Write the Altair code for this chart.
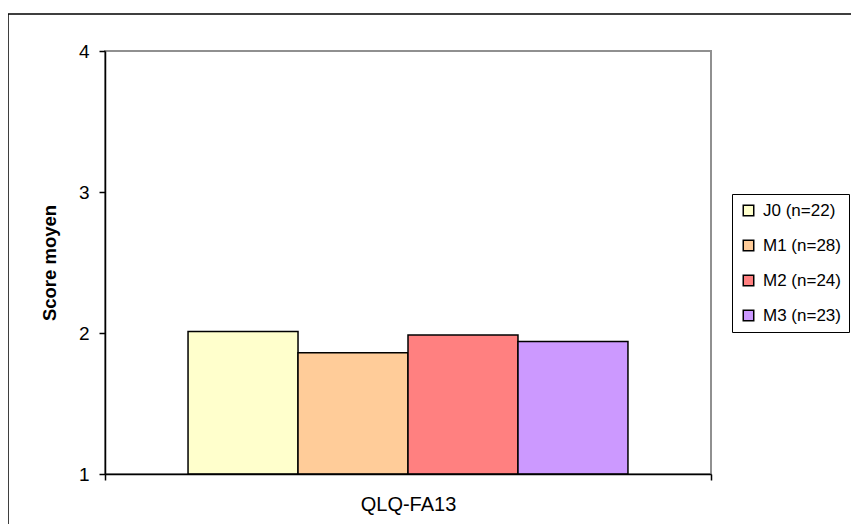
import altair as alt
import pandas as pd

groups = ["J0 (n=22)", "M1 (n=28)", "M2 (n=24)", "M3 (n=23)"]
scores = [2.01, 1.86, 1.985, 1.94]
category = ["QLQ-FA13"] * 4
colors = ["#FFFFCC", "#FFCC99", "#FF8080", "#CC99FF"]
y_ticks = [1, 2, 3, 4]

df = pd.DataFrame({"cat": category, "group": groups, "score": scores})

W, H = 606, 423
FONT = "Liberation Sans"

frame = alt.Chart(pd.DataFrame({"a": [0]})).mark_rect(
    filled=False, fillOpacity=0, stroke="black", strokeWidth=1.5, clip=False
).encode(
    x=alt.value(-97), x2=alt.value(W + 400),
    y=alt.value(-37), y2=alt.value(H + 300),
)

bars = alt.Chart(df).mark_bar(stroke="black", strokeWidth=1.5).encode(
    x=alt.X("cat:N", title=None,
            scale=alt.Scale(paddingInner=0, paddingOuter=0),
            axis=alt.Axis(labelAngle=0, tickBand="extent", domainColor="black",
                          tickColor="black", tickSize=6, labelFontSize=20,
                          labelFont=FONT, labelColor="black", labelPadding=14, zindex=1)),
    xOffset=alt.XOffset("group:N", sort=groups,
                        scale=alt.Scale(paddingInner=0, paddingOuter=0.755)),
    y=alt.Y("score:Q", title="Score moyen",
            scale=alt.Scale(domain=[1, 4], zero=False, nice=False),
            axis=alt.Axis(values=y_ticks, grid=False, domainColor="black",
                          tickColor="black", tickSize=6, labelFontSize=19,
                          labelFont=FONT, labelColor="black", labelPadding=10,
                          titleFontSize=18.5, titleFont=FONT, titleFontWeight="bold",
                          titleColor="black", titlePadding=19, zindex=1)),
    y2=alt.datum(1),
    color=alt.Color("group:N", sort=groups,
                    scale=alt.Scale(domain=groups, range=colors),
                    legend=alt.Legend(title=None, orient="none", legendX=627, legendY=143,
                                      symbolType="square", symbolSize=110,
                                      symbolStrokeColor="black", symbolStrokeWidth=1.5,
                                      labelFontSize=17, labelFont=FONT, labelColor="black",
                                      labelOffset=6, rowPadding=17, padding=8,
                                      strokeColor="black", fillColor="white")),
)

chart = alt.layer(frame, bars).properties(
    width=W, height=H,
    autosize=alt.AutoSizeParams(type="none"),
    padding={"left": 97, "top": 43, "right": 140, "bottom": 50},
    background="white",
).configure_view(stroke="#909090", strokeWidth=2).configure_axis(domainWidth=1.5, tickWidth=1.5)

chart.save("out.html", embed_options={"renderer": "svg", "actions": False})
